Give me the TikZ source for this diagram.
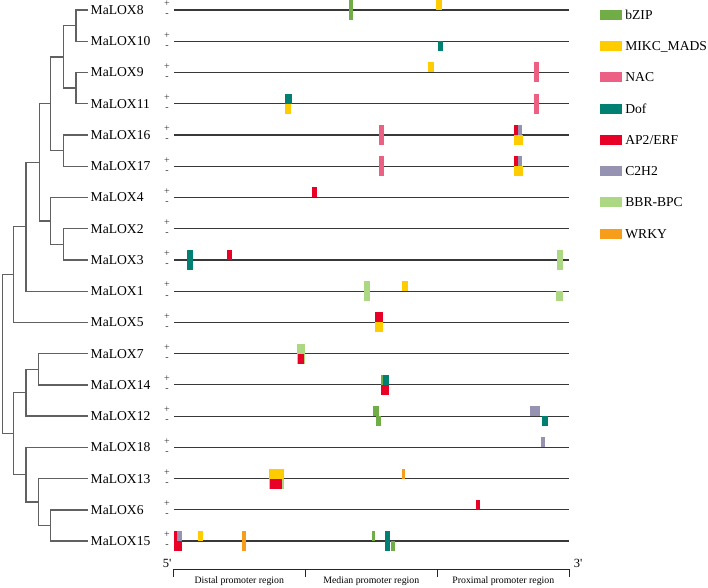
\documentclass[tikz,border=0pt]{standalone}
\usepackage{fontspec}
\setmainfont{Liberation Serif}
\usepackage{tikz}
\usetikzlibrary{positioning,calc}

\definecolor{cbzip}{RGB}{112,173,71}
\definecolor{cmikc}{RGB}{255,204,0}
\definecolor{cnac}{RGB}{236,96,132}
\definecolor{cdof}{RGB}{0,128,114}
\definecolor{cap}{RGB}{232,0,38}
\definecolor{cczh}{RGB}{150,146,178}
\definecolor{cbbr}{RGB}{172,216,132}
\definecolor{cwrky}{RGB}{246,158,28}

\begin{document}
\begin{tikzpicture}[
    x=1pt, y=-1pt,
    branch/.style={draw=black!62, line width=1.3pt},
    gene/.style={anchor=west, inner xsep=2.5pt, inner ysep=0pt, text height=9pt, text depth=0pt, font=\fontsize{13.6}{15}\selectfont},
    strand/.style={inner sep=0pt, font=\fontsize{10}{10}\selectfont, black!80},
    promoter/.style={draw=black!78, line width=1.2pt},
    axisline/.style={draw=black!85, line width=0.9pt},
    key/.style={minimum width=21.7pt, minimum height=10pt, inner sep=0pt},
    keylab/.style={anchor=west, inner sep=0pt, text height=9pt, text depth=0pt, font=\fontsize{13.6}{15}\selectfont},
    region/.style={anchor=base, inner sep=0pt, font=\fontsize{9.8}{11}\selectfont},
    endlab/.style={anchor=base, inner sep=0pt, font=\fontsize{12.5}{13}\selectfont},
    bzip/.style={fill=cbzip},
    mikc/.style={fill=cmikc},
    nac/.style={fill=cnac},
    dof/.style={fill=cdof},
    ap/.style={fill=cap},
    czh/.style={fill=cczh},
    bbr/.style={fill=cbbr},
    wrky/.style={fill=cwrky},
]
\useasboundingbox (0,0) rectangle (708,587);

% Genes, strands and promoter lines
\foreach \g [count=\i] in {8,10,9,11,16,17,4,2,3,1,5,7,14,12,18,13,6,15} {
    \pgfmathsetmacro{\ry}{10+(\i-1)*31.24}
    \node[gene] (g\g) at (88,\ry) {MaLOX\g};
    \node[strand] (p\g) at (167,\ry-6) {+};
    \node[strand] (m\g) at (167,\ry+5.5) {-};
    \coordinate (s\g) at (174,\ry);
    \coordinate (e\g) at (569,\ry);
    \draw[promoter] (s\g) -- (e\g);
}

% Tree nodes
\coordinate (c810) at (76,25.6);
\coordinate (c911) at (76,88.1);
\coordinate (c8911) at (63.3,56.9);
\coordinate (c1617) at (63.3,150.6);
\coordinate (cA) at (50.7,103.7);
\coordinate (c23) at (63.3,244.3);
\coordinate (c423) at (50.7,220.9);
\coordinate (cAB) at (39.3,162.3);
\coordinate (cAB1) at (26,226.7);
\coordinate (cUp) at (13.3,274.6);
\coordinate (c714) at (38.3,369.3);
\coordinate (c71412) at (26,392.7);
\coordinate (c615) at (50.7,525.5);
\coordinate (c13615) at (38.3,502);
\coordinate (c18) at (26,474.7);
\coordinate (cLow) at (13.3,433.7);
\coordinate (root) at (2.7,354.2);

% Tree branches
\draw[branch] (c810) |- (g8.west);
\draw[branch] (c810) |- (g10.west);
\draw[branch] (c911) |- (g9.west);
\draw[branch] (c911) |- (g11.west);
\draw[branch] (c8911) |- (c810);
\draw[branch] (c8911) |- (c911);
\draw[branch] (c1617) |- (g16.west);
\draw[branch] (c1617) |- (g17.west);
\draw[branch] (cA) |- (c8911);
\draw[branch] (cA) |- (c1617);
\draw[branch] (c23) |- (g2.west);
\draw[branch] (c23) |- (g3.west);
\draw[branch] (c423) |- (g4.west);
\draw[branch] (c423) |- (c23);
\draw[branch] (cAB) |- (cA);
\draw[branch] (cAB) |- (c423);
\draw[branch] (cAB1) |- (cAB);
\draw[branch] (cAB1) |- (g1.west);
\draw[branch] (cUp) |- (cAB1);
\draw[branch] (cUp) |- (g5.west);
\draw[branch] (c714) |- (g7.west);
\draw[branch] (c714) |- (g14.west);
\draw[branch] (c71412) |- (c714);
\draw[branch] (c71412) |- (g12.west);
\draw[branch] (c615) |- (g6.west);
\draw[branch] (c615) |- (g15.west);
\draw[branch] (c13615) |- (g13.west);
\draw[branch] (c13615) |- (c615);
\draw[branch] (c18) |- (g18.west);
\draw[branch] (c18) |- (c13615);
\draw[branch] (cLow) |- (c71412);
\draw[branch] (cLow) |- (c18);
\draw[branch] (root) |- (cUp);
\draw[branch] (root) |- (cLow);

% Binding sites
% MaLOX8
\fill[bzip] (348.7,0) rectangle (352.7,20);
\fill[mikc] (436.3,0) rectangle (442,10);
% MaLOX10
\fill[dof] (437.7,41.24) rectangle (443,51.24);
% MaLOX9
\fill[mikc] (428,62.48) rectangle (433.7,72.48);
\fill[nac] (534,62.48) rectangle (538.7,82.48);
% MaLOX11
\fill[dof] (285.3,93.72) rectangle (292,103.72);
\fill[mikc] (285,103.72) rectangle (290.7,113.72);
\fill[nac] (534,93.72) rectangle (538.7,113.72);
% MaLOX16
\fill[nac] (379.3,124.96) rectangle (384,144.96);
\fill[ap] (514.3,124.96) rectangle (518,134.96);
\fill[czh] (518,124.96) rectangle (522,134.96);
\fill[mikc] (514,134.96) rectangle (523.3,144.96);
% MaLOX17
\fill[nac] (379.3,156.2) rectangle (384,176.2);
\fill[ap] (514.3,156.2) rectangle (518,166.2);
\fill[czh] (518,156.2) rectangle (522,166.2);
\fill[mikc] (514,166.2) rectangle (523.3,176.2);
% MaLOX4
\fill[ap] (312.3,187.44) rectangle (317.3,197.44);
% MaLOX3
\fill[dof] (186.7,249.92) rectangle (192.7,269.92);
\fill[ap] (226.7,249.92) rectangle (232,259.92);
\fill[bbr] (557,249.92) rectangle (563,269.92);
% MaLOX1
\fill[bbr] (364,281.16) rectangle (370.3,301.16);
\fill[mikc] (402,281.16) rectangle (407.7,291.16);
\fill[bbr] (555.7,291.16) rectangle (562.7,301.16);
% MaLOX5
\fill[ap] (375.3,312.4) rectangle (383.3,322.4);
\fill[mikc] (375.3,322.4) rectangle (383.3,332.4);
% MaLOX7
\fill[bbr] (297.3,343.64) rectangle (305.3,363.64);
\fill[ap] (298.3,353.64) rectangle (304.3,363.64);
% MaLOX14
\fill[bzip] (381.3,374.88) rectangle (383.3,384.88);
\fill[dof] (383.3,374.88) rectangle (388.7,384.88);
\fill[ap] (381.3,384.88) rectangle (388.7,394.88);
% MaLOX12
\fill[bzip] (373.3,406.12) rectangle (378.7,416.12);
\fill[bzip] (375.7,416.12) rectangle (380.7,426.12);
\fill[czh] (530.3,406.12) rectangle (540,416.12);
\fill[dof] (541.7,416.12) rectangle (547.7,426.12);
% MaLOX18
\fill[czh] (541,437.36) rectangle (545,447.36);
% MaLOX13
\fill[bbr] (268.7,468.6) rectangle (283.7,488.6);
\fill[mikc] (269.5,468.6) rectangle (283,478.6);
\fill[ap] (270,478.6) rectangle (282.3,488.6);
\fill[wrky] (402,468.6) rectangle (405.3,478.6);
% MaLOX6
\fill[ap] (476,499.84) rectangle (479.7,509.84);
% MaLOX15
\fill[ap] (174,531.08) rectangle (182,551.08);
\fill[czh] (176.7,531.08) rectangle (182,541.08);
\fill[mikc] (197.7,531.08) rectangle (203.3,541.08);
\fill[wrky] (242,531.08) rectangle (246,551.08);
\fill[bzip] (372.3,531.08) rectangle (375,541.08);
\fill[dof] (384.7,531.08) rectangle (390,551.08);
\fill[bzip] (390.7,541.08) rectangle (395,551.08);

% Position axis
\coordinate (a0) at (173.3,569.3);
\coordinate (a1) at (305.3,569.3);
\coordinate (a2) at (437.3,569.3);
\coordinate (a3) at (569.3,569.3);
\draw[axisline] (a0) -- (a3);
\foreach \k in {0,...,3} \draw[axisline] (a\k) -- ++(0,7.5);
\node[endlab] (five) at (167,567.3) {5\textquotesingle};
\node[endlab] (three) at (578,567.3) {3\textquotesingle};
\node[region] (distal) at ($(a0)!0.5!(a1)+(0,13.7)$) {Distal promoter region};
\node[region] (median) at ($(a1)!0.5!(a2)+(0,13.7)$) {Median promoter region};
\node[region] (proximal) at ($(a2)!0.5!(a3)+(0,13.7)$) {Proximal promoter region};

% Legend
\node[key, bzip] (k1) at (610.8,15) {};
\node[key, mikc] (k2) at (610.8,46.24) {};
\node[key, nac] (k3) at (610.8,77.48) {};
\node[key, dof] (k4) at (610.8,108.72) {};
\node[key, ap] (k5) at (610.8,139.96) {};
\node[key, czh] (k6) at (610.8,171.2) {};
\node[key, bbr] (k7) at (610.8,202.44) {};
\node[key, wrky] (k8) at (610.8,233.68) {};
\node[keylab, right=3.3pt of k1] (t1) {bZIP};
\node[keylab, right=3.3pt of k2] (t2) {MIKC\_MADS};
\node[keylab, right=3.3pt of k3] (t3) {NAC};
\node[keylab, right=3.3pt of k4] (t4) {Dof};
\node[keylab, right=3.3pt of k5] (t5) {AP2/ERF};
\node[keylab, right=3.3pt of k6] (t6) {C2H2};
\node[keylab, right=3.3pt of k7] (t7) {BBR-BPC};
\node[keylab, right=3.3pt of k8] (t8) {WRKY};
\end{tikzpicture}
\end{document}
